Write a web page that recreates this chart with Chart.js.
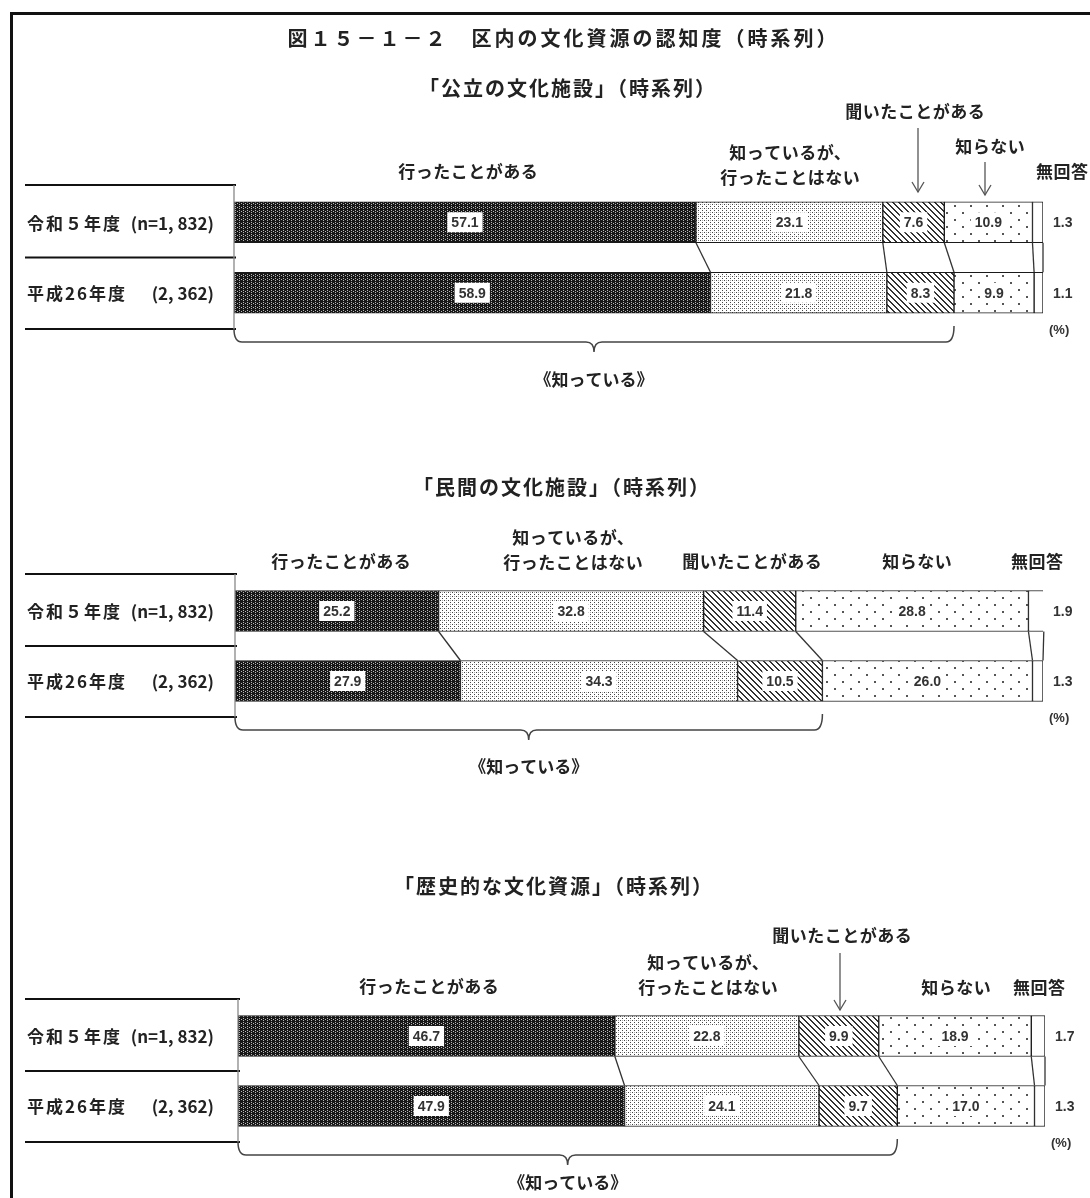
<!DOCTYPE html>
<html><head><meta charset="utf-8">
<script src="https://cdn.jsdelivr.net/npm/chart.js@4.4.0/dist/chart.umd.min.js"></script>
<style>
html,body{margin:0;padding:0;background:#fff;width:1090px;height:1198px;overflow:hidden;}
#frame{position:absolute;left:10px;top:12px;width:1200px;height:1300px;border:3px solid #111;box-sizing:border-box;}
canvas{position:absolute;left:0;top:0;}
</style></head><body>
<div id="frame"></div>
<canvas id="c1" width="1090" height="1198"></canvas>
<canvas id="c2" width="1090" height="1198"></canvas>
<canvas id="c3" width="1090" height="1198"></canvas>
<script>
// ---------- data ----------
const figureTitle = '図１５－１－２　区内の文化資源の認知度（時系列）';
const panelTitles = ['「公立の文化施設」（時系列）', '「民間の文化施設」（時系列）', '「歴史的な文化資源」（時系列）'];
const rowLabels = ['令和５年度(n=1, 832)', '平成26年度　(2, 362)'];
const responses = ['行ったことがある', '知っているが、\n行ったことはない', '聞いたことがある', '知らない', '無回答'];
const knownLabel = '《知っている》';
const unitLabel = '(%)';
const publicR5 = [57.1, 23.1, 7.6, 10.9, 1.3];
const publicH26 = [58.9, 21.8, 8.3, 9.9, 1.1];
const privateR5 = [25.2, 32.8, 11.4, 28.8, 1.9];
const privateH26 = [27.9, 34.3, 10.5, 26.0, 1.3];
const historicR5 = [46.7, 22.8, 9.9, 18.9, 1.7];
const historicH26 = [47.9, 24.1, 9.7, 17.0, 1.3];

// ---------- layout ----------
const JP = '"Noto Sans CJK JP", "Noto Sans CJK SC", sans-serif';
const NUM = '"Liberation Sans Narrow", "Liberation Sans", Arial, sans-serif';
const W = 1090, H = 1198;
const layouts = [
  { id: 'c1', r5: publicR5, h26: publicH26, left: 234, right: 1043, top: 187, bottom: 328,
    braceY: 342, braceLabelY: 380, title: { x: 567, y: 88 }, main: { x: 562, y: 38 },
    headers: [ { k: 0, x: 468, y: 172 }, { k: 1, x: 790, y: 153 }, { k: 2, x: 915, y: 112 },
               { k: 3, x: 990, y: 147 }, { k: 4, x: 1062, y: 172 } ],
    arrows: [ { x: 918, y1: 128, y2: 192 }, { x: 985, y1: 162, y2: 195 } ] },
  { id: 'c2', r5: privateR5, h26: privateH26, left: 235, right: 1043, top: 576, bottom: 716,
    braceY: 730, braceLabelY: 767, title: { x: 561, y: 487 },
    headers: [ { k: 0, x: 341, y: 562 }, { k: 1, x: 573, y: 538 }, { k: 2, x: 752, y: 562 },
               { k: 3, x: 917, y: 562 }, { k: 4, x: 1037, y: 562 } ],
    arrows: [] },
  { id: 'c3', r5: historicR5, h26: historicH26, left: 238, right: 1045, top: 1001, bottom: 1141,
    braceY: 1155, braceLabelY: 1183, title: { x: 553, y: 886 },
    headers: [ { k: 0, x: 429, y: 987 }, { k: 1, x: 708, y: 963 }, { k: 2, x: 842, y: 936 },
               { k: 3, x: 956, y: 988 }, { k: 4, x: 1039, y: 988 } ],
    arrows: [ { x: 840, y1: 953, y2: 1010 } ] }
];

// ---------- patterns ----------
function pat(w, h, bg, draw) {
  const c = document.createElement('canvas'); c.width = w; c.height = h;
  const g = c.getContext('2d'); g.fillStyle = bg; g.fillRect(0, 0, w, h); draw(g);
  return g.createPattern(c, 'repeat');
}
const patterns = [
  pat(4, 4, '#181818', g => { g.fillStyle = '#b8b8b8'; g.fillRect(3, 0, 1, 1); g.fillRect(3, 2, 1, 1); g.fillRect(1, 3, 1, 1); }),
  pat(4, 4, '#ffffff', g => { g.fillStyle = '#444'; g.fillRect(0, 0, 1, 1); g.fillRect(2, 2, 1, 1); g.fillStyle = '#aaa'; g.fillRect(2, 0, 1, 1); }),
  pat(6, 6, '#ffffff', g => { g.fillStyle = '#333'; for (let i = 0; i < 6; i++) { g.fillRect(i, i, 1, 1); g.fillRect((i + 1) % 6, i, 1, 1); } }),
  pat(16, 14, '#ffffff', g => { g.fillStyle = '#555'; g.fillRect(2, 2, 2, 2); g.fillRect(10, 9, 2, 2); }),
  '#ffffff'
];

function line(ctx, x1, y1, x2, y2) { ctx.beginPath(); ctx.moveTo(x1, y1); ctx.lineTo(x2, y2); ctx.stroke(); }
function text(ctx, s, x, y, font, align, color, spacing) {
  ctx.font = font; ctx.letterSpacing = spacing || '0px';
  ctx.textAlign = align || 'center'; ctx.textBaseline = 'middle';
  ctx.fillStyle = color || '#222';
  let dx = 0;
  if (spacing && align !== 'left') { dx = parseFloat(spacing) / (align === 'right' ? 1 : 2); }
  ctx.fillText(s, x + dx, y); ctx.letterSpacing = '0px';
}

function makeDecor(L, idx) {
  return {
    id: 'decor' + idx,
    afterDatasetsDraw(chart) {
      const ctx = chart.ctx, ca = chart.chartArea;
      const metas = chart.data.datasets.map((d, i) => chart.getDatasetMeta(i));
      const rows = [0, 1].map(i => { const b = metas[0].data[i]; return { y: b.y, top: b.y - b.height / 2, bottom: b.y + b.height / 2 }; });
      ctx.save();
      // left label table
      const tTop = ca.top - 2, tMid = (ca.top + ca.bottom) / 2, tBot = ca.bottom + 1;
      ctx.strokeStyle = '#111'; ctx.lineWidth = 2;
      [tTop, tMid, tBot].forEach(ty => line(ctx, 25, ty, ca.left + 2, ty));
      ctx.strokeStyle = '#888'; ctx.lineWidth = 1.3;
      line(ctx, ca.left, tTop, ca.left, tBot);
      chart.data.labels.forEach((lab, i) => {
        const p = lab.indexOf('(');
        const name = lab.slice(0, p).trim(), count = lab.slice(p);
        text(ctx, name, 27, rows[i].y + 1, `bold 17px ${JP}`, 'left', '#222', '2px');
        text(ctx, count, 214, rows[i].y + 1, `bold 17px ${JP}`, 'right', '#222');
      });
      // connectors between rows
      ctx.strokeStyle = '#333'; ctx.lineWidth = 1.3;
      metas.forEach(m => line(ctx, m.data[0].x, rows[0].bottom, m.data[1].x, rows[1].top));
      // value labels
      metas.forEach((m, k) => {
        m.data.forEach((b, i) => {
          const v = chart.data.datasets[k].data[i].toFixed(1);
          if (k < 4) {
            const cx = (b.x + b.base) / 2;
            ctx.font = `bold 14px ${NUM}`;
            const w = ctx.measureText(v).width + 8;
            ctx.fillStyle = '#fff'; ctx.fillRect(cx - w / 2, b.y - 10, w, 20);
            text(ctx, v, cx, b.y + 1, `bold 14px ${NUM}`, 'center', '#333');
          } else {
            text(ctx, v, ca.right + 10, b.y + 1, `bold 14px ${NUM}`, 'left', '#333');
          }
        });
      });
      text(ctx, unitLabel, ca.right + 6, rows[1].bottom + 17, `bold 13px ${NUM}`, 'left', '#333');
      // brace
      const x0 = ca.left, x1 = metas[2].data[1].x, by = L.braceY, xc = (x0 + x1) / 2, r = 8;
      ctx.strokeStyle = '#444'; ctx.lineWidth = 1.5;
      ctx.beginPath();
      ctx.moveTo(x0, tBot);
      ctx.quadraticCurveTo(x0, by, x0 + r, by);
      ctx.lineTo(xc - r, by);
      ctx.quadraticCurveTo(xc, by, xc, by + 10);
      ctx.quadraticCurveTo(xc, by, xc + r, by);
      ctx.lineTo(x1 - r, by);
      ctx.quadraticCurveTo(x1, by, x1, by - 16);
      ctx.stroke();
      text(ctx, knownLabel, xc, L.braceLabelY, `bold 17px ${JP}`, 'center', '#222');
      // headers
      L.headers.forEach(h => {
        const lines = responses[h.k].split('\n');
        lines.forEach((s, j) => text(ctx, s, h.x, h.y + j * 25, `bold 17px ${JP}`, h.align || 'center', '#222', '0.5px'));
      });
      // arrows
      ctx.strokeStyle = '#555'; ctx.lineWidth = 1.3;
      L.arrows.forEach(a => {
        line(ctx, a.x, a.y1, a.x, a.y2);
        ctx.beginPath(); ctx.moveTo(a.x - 6, a.y2 - 10); ctx.lineTo(a.x, a.y2); ctx.lineTo(a.x + 6, a.y2 - 10); ctx.stroke();
      });
      // titles
      text(ctx, panelTitles[idx], L.title.x, L.title.y, `bold 20px ${JP}`, 'center', '#222', '2px');
      if (L.main) text(ctx, figureTitle, L.main.x, L.main.y, `bold 20px ${JP}`, 'center', '#222', '3px');
      ctx.restore();
    }
  };
}

layouts.forEach((L, idx) => {
  new Chart(document.getElementById(L.id), {
    type: 'bar',
    data: {
      labels: rowLabels,
      datasets: responses.map((r, k) => ({
        label: r.replace('\n', ''), data: [L.r5[k], L.h26[k]],
        backgroundColor: patterns[k], borderColor: '#1a1a1a', borderWidth: 1, borderSkipped: false,
        barThickness: 41
      }))
    },
    options: {
      indexAxis: 'y', responsive: false, animation: false, events: [],
      layout: { padding: { left: L.left, right: W - L.right, top: L.top, bottom: H - L.bottom } },
      scales: {
        x: { stacked: true, min: 0, max: 100, display: false },
        y: { stacked: true, display: false }
      },
      plugins: { legend: { display: false }, tooltip: { enabled: false } }
    },
    plugins: [makeDecor(L, idx)]
  });
});
</script>
</body></html>
